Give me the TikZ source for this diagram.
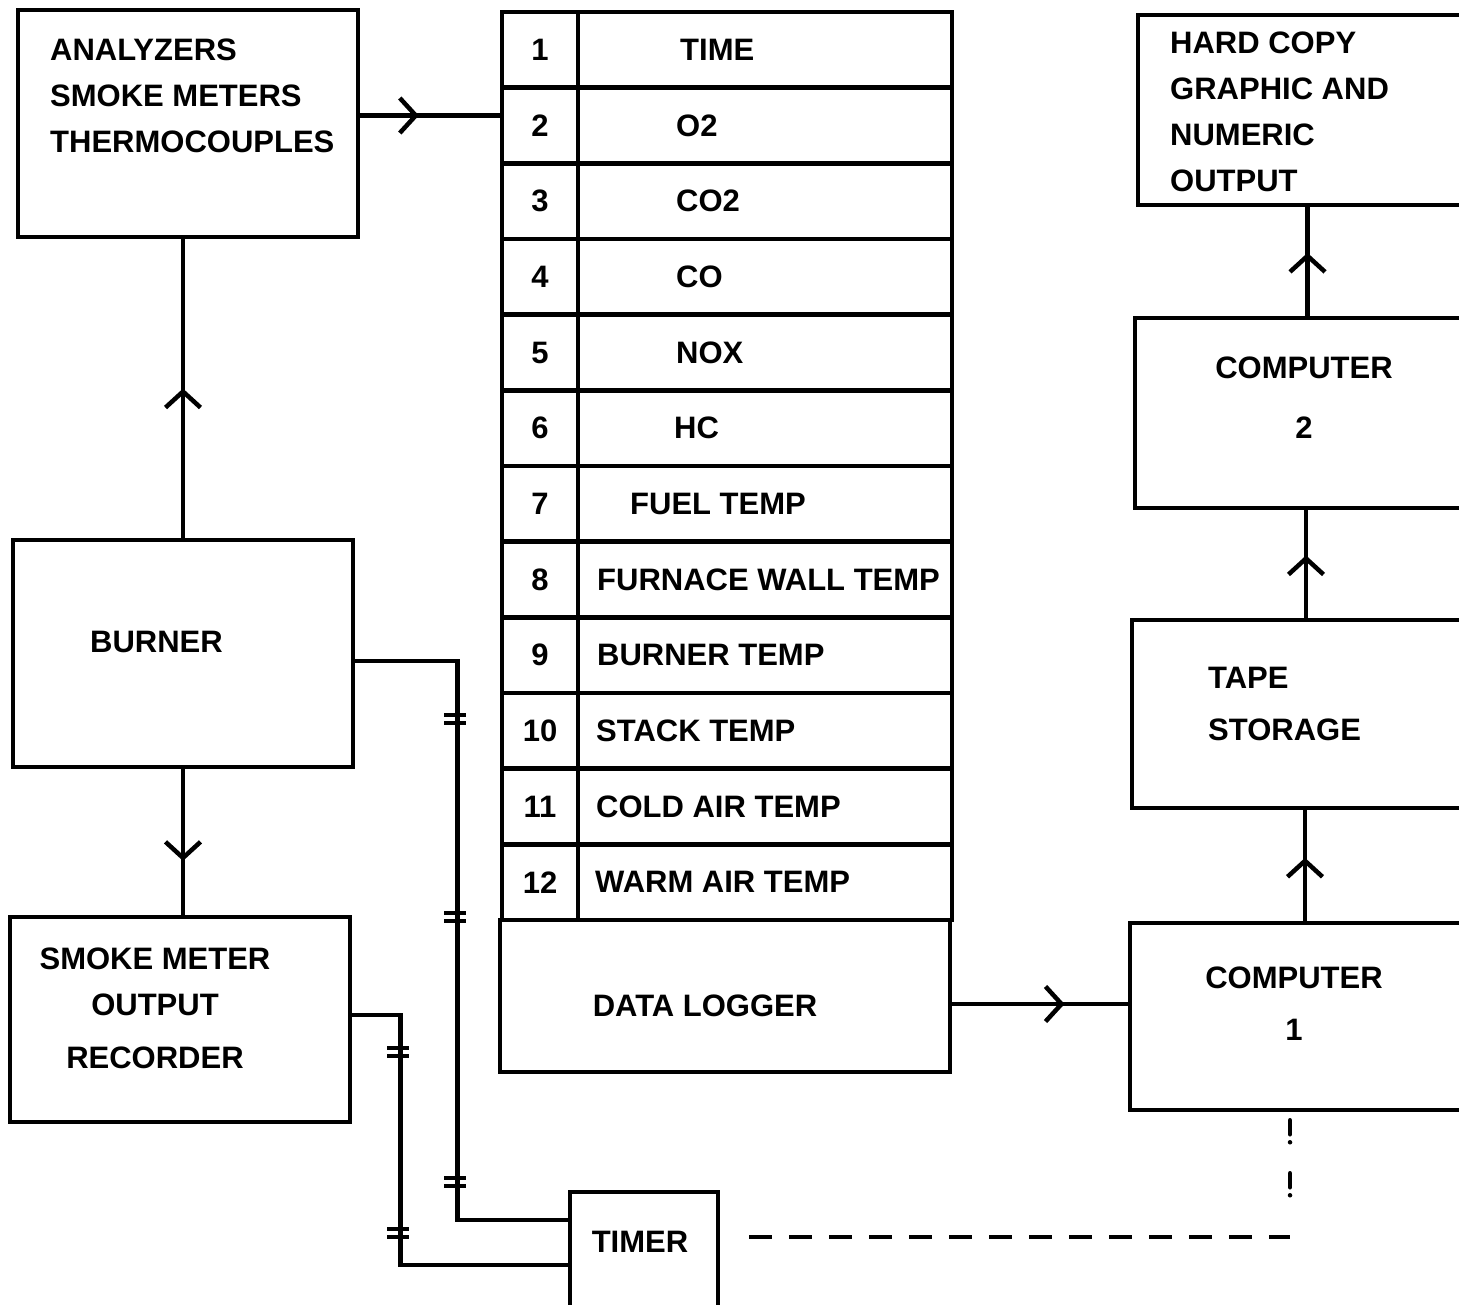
\documentclass[tikz,border=0pt]{standalone}
\usepackage{fontspec}
\setmainfont{Liberation Sans}
\usepackage{tikz}
\usetikzlibrary{arrows.meta, decorations.markings}

\begin{document}
\begin{tikzpicture}[
    x=1pt, y=-1pt,
    font=\bfseries\fontsize{31}{46}\selectfont,
    box/.style={rectangle, draw, line width=4.5pt, inner sep=0pt},
    cell/.style={box, minimum height=75.67pt},
    lbl/.style={inner sep=0pt, align=left},
    wire/.style={line width=4.5pt},
    flow/.style={wire, postaction={decorate}, decoration={markings, mark=at position #1 with {\arrow{Straight Barb[length=16pt, width=35pt, line width=4.5pt]}}}},
    flow/.default=0.5,
    hashmark/.style={line width=4pt},
    linkdash/.style={line width=4.5pt, dash pattern=on 23pt off 17pt, dash phase=28pt},
    linkdot/.style={line width=4.5pt, line cap=round, dash pattern=on 14pt off 8pt on 0pt off 31pt on 14pt off 8pt on 0pt off 60pt, dash phase=127pt}
]

\path[use as bounding box, fill=white] (0,0) rectangle (1459,1304);
\clip (0,0) rectangle (1459,1304);

\node[box, minimum width=340pt, minimum height=227pt] (analyzers) at (188,123.5) {};
\node[box, minimum width=340pt, minimum height=227pt] (burner) at (183,653.5) {};
\node[box, minimum width=340pt, minimum height=205pt] (smoke) at (180,1019.5) {};
\node[box, minimum width=148pt, minimum height=128pt] (timer) at (644,1256) {};
\node[box, minimum width=450pt, minimum height=152pt] (logger) at (725,996) {};

\node[box, minimum width=342pt, minimum height=190pt] (hardcopy) at (1309,110) {};
\node[box, minimum width=345pt, minimum height=190pt] (comp2) at (1307.5,413) {};
\node[box, minimum width=348pt, minimum height=188pt] (tape) at (1306,714) {};
\node[box, minimum width=350pt, minimum height=187pt] (comp1) at (1305,1016.5) {};

\foreach \i/\field/\fx in {1/TIME/680, 2/O2/676, 3/CO2/676, 4/CO/676, 5/NOX/676, 6/HC/674, 7/FUEL TEMP/630, 8/FURNACE WALL TEMP/597, 9/BURNER TEMP/597, 10/STACK TEMP/596, 11/COLD AIR TEMP/596, 12/WARM AIR TEMP/595}
{
  \node[cell, minimum width=76pt] (num\i) at (540, {12+75.67*(\i-0.5)}) {\i};
  \node[cell, minimum width=374pt] (row\i) at (765, {12+75.67*(\i-0.5)}) {};
  \node[lbl, anchor=west] (field\i) at (\fx, {12+75.67*(\i-0.5)}) {\field};
}

\node[lbl, anchor=west] (analyzerstext) at (50,96) {ANALYZERS\\SMOKE METERS\\THERMOCOUPLES};
\node[lbl, anchor=west] (burnertext) at (90,642) {BURNER};
\node[lbl, align=center] (smoketext) at (155,1008) {SMOKE METER\\OUTPUT\\[7pt]RECORDER};
\node[lbl] (timertext) at (640,1242) {TIMER};
\node[lbl] (loggertext) at (705,1006) {DATA LOGGER};
\node[lbl, anchor=west] (copytext) at (1170,112) {HARD COPY\\GRAPHIC AND\\NUMERIC\\OUTPUT};
\node[lbl, align=center] (comp2text) at (1304,398) {COMPUTER\\[14pt]2};
\node[lbl, anchor=west] (tapetext) at (1208,704) {TAPE\\[6pt]STORAGE};
\node[lbl, align=center] (comp1text) at (1294,1004) {COMPUTER\\[6pt]1};

\coordinate (bend) at (1290,1237);

\draw[flow=0.42] ([yshift=8pt]analyzers.east) -- ([yshift=8pt]analyzers.east -| num2.west);
\draw[flow=0.5] (burner.north) -- (burner.north |- analyzers.south);
\draw[flow=0.63] (burner.south) -- (burner.south |- smoke.north);
\draw[flow=0.64] ([yshift=-8pt]logger.east) -- ([yshift=-8pt]logger.east -| comp1.west);
\draw[flow=0.57] (comp1.north) -- (comp1.north |- tape.south);
\draw[flow=0.58] (tape.north) -- (tape.north |- comp2.south);
\draw[flow=0.58] (comp2.north) -- (comp2.north |- hardcopy.south);

\draw[wire] ([yshift=-7.5pt]burner.east) -- ++(102,0) |- ([yshift=36pt]timer.west);
\draw[wire] ([yshift=4.5pt]smoke.east) -- ++(48,0) |- ([yshift=-9pt]timer.west);
\foreach \hx/\hy in {455/719, 455/917, 455/1182, 398/1052, 398/1233}
  \draw[hashmark] (\hx-11,\hy-4) -- ++(22,0) (\hx-11,\hy+4) -- ++(22,0);

\draw[linkdash] ([xshift=17pt, yshift=19pt]timer.east) -- (bend);
\draw[linkdot] ([xshift=-15pt]comp1.south) -- (bend);

\end{tikzpicture}
\end{document}
